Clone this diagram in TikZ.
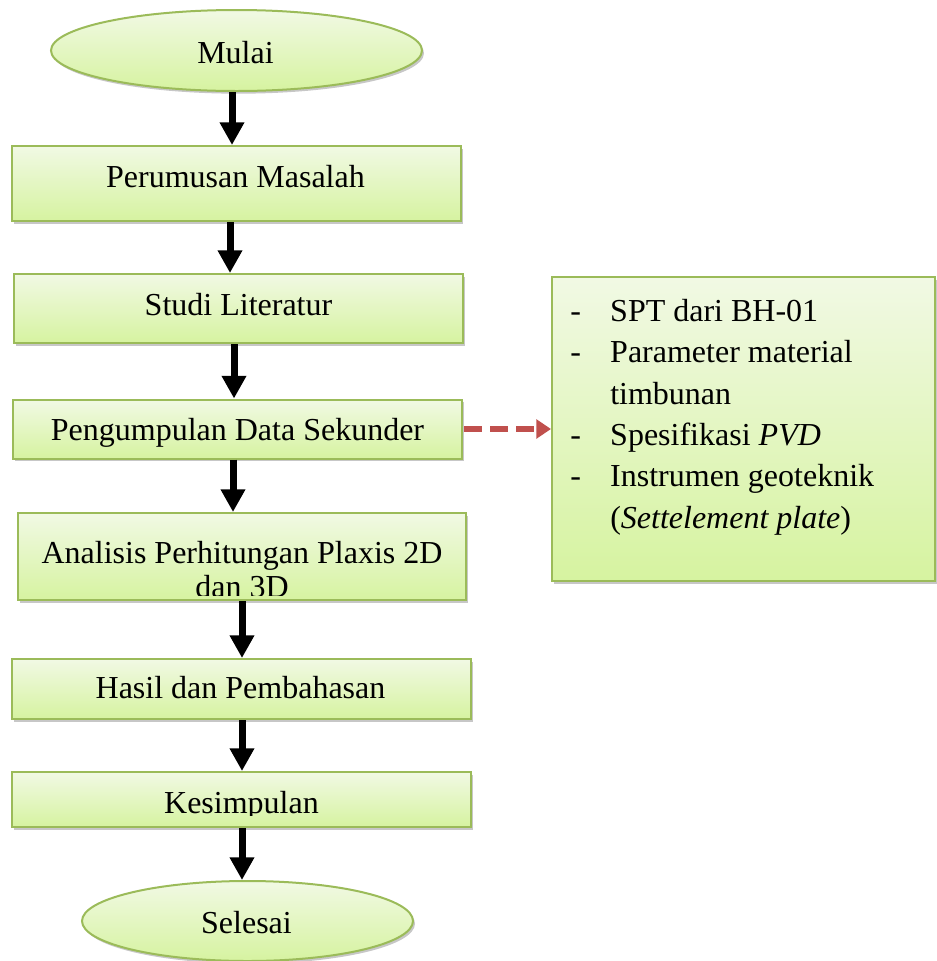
\documentclass[tikz,border=0pt]{standalone}
\usepackage{fontspec}
\setmainfont{Liberation Serif}
\usetikzlibrary{shapes.geometric,arrows.meta,shadows}
\definecolor{boxborder}{RGB}{155,187,89}
\definecolor{boxtop}{RGB}{241,249,228}
\definecolor{boxbot}{RGB}{214,243,160}
\definecolor{dashred}{RGB}{192,80,77}
\tikzset{
  boxbase/.style={draw=boxborder, line width=1.5pt, top color=boxtop, bottom color=boxbot,
    drop shadow={shadow xshift=1.5pt, shadow yshift=-2pt, fill=black, opacity=0.22},
    inner sep=0pt},
  stepbox/.style={boxbase, rectangle},
  termbox/.style={boxbase, ellipse},
  lbl/.style={inner sep=0pt, anchor=base, font=\fontsize{24}{30.75}\selectfont, text=black},
  flow/.style={line width=5.25pt, -{Triangle[width=17.5pt,length=17pt]}},
  dataflow/.style={line width=4.8pt, dashred, dash pattern=on 13.5pt off 6pt,
    -{Triangle[width=14pt,length=11pt]}}
}
\begin{document}
\begin{tikzpicture}[x=0.75pt,y=-0.75pt]
\useasboundingbox (0,0) rectangle (936,961);
% boxes
\node[termbox, minimum width=278.25pt, minimum height=60.75pt] (mul) at (236.5,50.5) {};
\node[stepbox, minimum width=336.75pt, minimum height=56.25pt] (per) at (236.5,183.5) {};
\node[stepbox, minimum width=336.75pt, minimum height=51.75pt] (stu) at (238.5,308.5) {};
\node[stepbox, minimum width=336.75pt, minimum height=44.25pt] (peng) at (237.5,429) {};
\node[stepbox, minimum width=336pt, minimum height=65.25pt] (ana) at (242,556.5) {};
\node[stepbox, minimum width=344.25pt, minimum height=45pt] (has) at (241.5,689) {};
\node[stepbox, minimum width=344.25pt, minimum height=41.25pt] (kes) at (241.5,799.5) {};
\node[termbox, minimum width=248.25pt, minimum height=60pt] (sel) at (247.5,921) {};
\node[stepbox, minimum width=287.25pt, minimum height=228pt] (data) at (743.5,429) {};
% labels
\node[lbl] (mullbl) at (235.5,63) {Mulai};
\node[lbl] (perlbl) at (235.5,187) {Perumusan Masalah};
\node[lbl] (stulbl) at (238.5,315) {Studi Literatur};
\node[lbl] (penglbl) at (237.5,440) {Pengumpulan Data Sekunder};
\begin{scope}
  \clip (18,513) rectangle (466,595.5);
  \node[lbl] (analbl1) at (242,563) {Analisis Perhitungan Plaxis 2D};
  \node[lbl] (analbl2) at (242,597.5) {dan 3D};
\end{scope}
\node[lbl] (haslbl) at (240.5,698) {Hasil dan Pembahasan};
\begin{scope}
  \clip (12,773) rectangle (471,815);
  \node[lbl] (keslbl) at (241.5,813) {Kesimpulan};
\end{scope}
\node[lbl] (sellbl) at (246.5,933) {Selesai};
\node[anchor=north west, inner sep=0pt, font=\fontsize{24}{31.05}\selectfont, align=left] (datatext) at (570,292)
  {\begin{tabular}{@{}p{30pt}@{}l@{}}
   - & SPT dari BH-01\\
   - & Parameter material\\
     & timbunan\\
   - & Spesifikasi \textit{PVD}\\
   - & Instrumen geoteknik\\
     & (\textit{Settelement plate})
   \end{tabular}};
% arrow x positions
\coordinate (ax1) at (232,0);
\coordinate (ax2) at (230,0);
\coordinate (ax3) at (234,0);
\coordinate (ax4) at (233,0);
\coordinate (ax5) at (242,0);
% connectors
\draw[flow] (mul.south -| ax1) -- (per.north -| ax1);
\draw[flow] (per.south -| ax2) -- (stu.north -| ax2);
\draw[flow] (stu.south -| ax3) -- (peng.north -| ax3);
\draw[flow] (peng.south -| ax4) -- (ana.north -| ax4);
\draw[flow] (ana.south -| ax5) -- (has.north -| ax5);
\draw[flow] (has.south -| ax5) -- (kes.north -| ax5);
\draw[flow] (kes.south -| ax5) -- (sel.north -| ax5);
\draw[dataflow] ([xshift=1pt]peng.east) -- (data.west);
\end{tikzpicture}
\end{document}
